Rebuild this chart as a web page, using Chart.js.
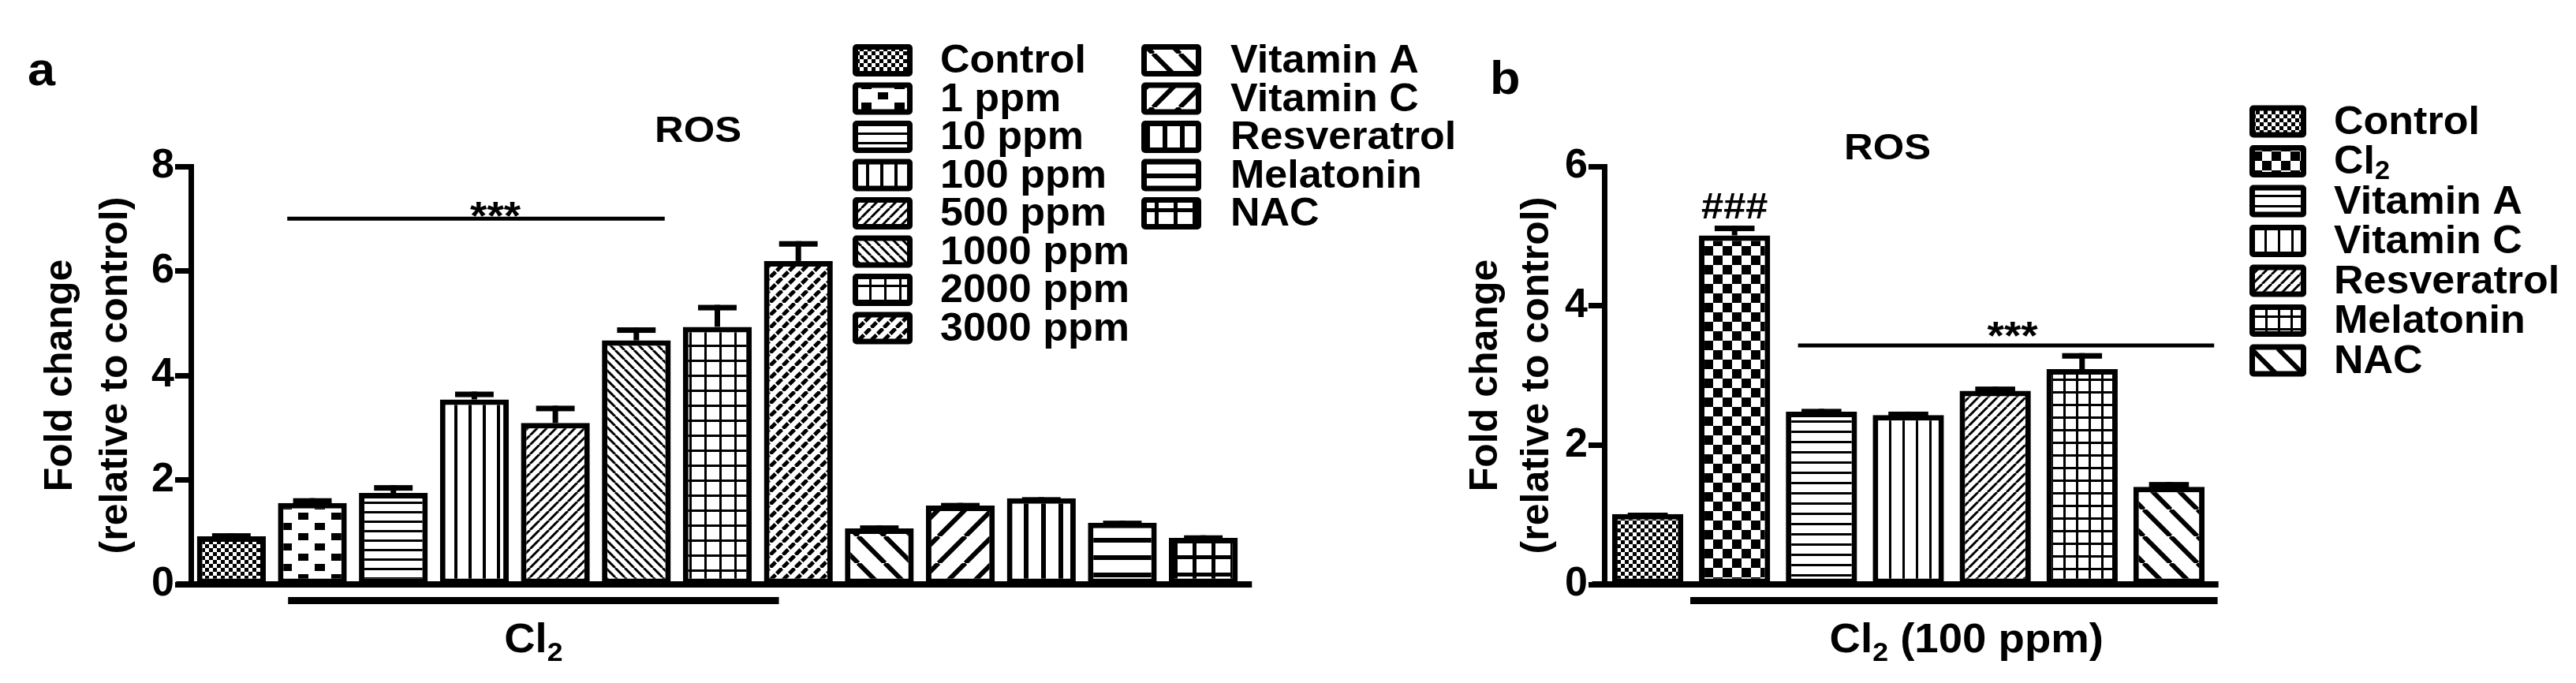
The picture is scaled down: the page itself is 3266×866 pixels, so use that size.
<!DOCTYPE html>
<html>
<head>
<meta charset="utf-8">
<title>ROS fold change</title>
<script src="https://cdn.jsdelivr.net/npm/chart.js@4.4.1/dist/chart.umd.min.js"></script>
<style>
  html, body { margin: 0; padding: 0; background: #fff; }
  #wrap { position: relative; width: 3266px; height: 866px; overflow: hidden; background: #fff; }
  canvas { position: absolute; top: 0; }
  #chartA { left: 0; }
  #chartB { left: 1800px; }
</style>
</head>
<body>
<div id="wrap">
  <canvas id="chartA" width="1900" height="866"></canvas>
  <canvas id="chartB" width="1466" height="866"></canvas>
</div>
<script>
// ===== DATA =====
// panel a : Cl2 dose response + antioxidants
const labelsA = ['Control', '1 ppm', '10 ppm', '100 ppm', '500 ppm', '1000 ppm', '2000 ppm', '3000 ppm',
  'Vitamin A', 'Vitamin C', 'Resveratrol', 'Melatonin', 'NAC'];
const valuesA = [0.92, 1.56, 1.75, 3.54, 3.09, 4.67, 4.93, 6.19, 1.07, 1.51, 1.65, 1.18, 0.89];
const errorsA = [0.06, 0.09, 0.15, 0.15, 0.33, 0.25, 0.42, 0.38, 0.06, 0.05, 0.02, 0.04, 0.05];
const ticksA = [0, 2, 4, 6, 8];

// panel b : Cl2 (100 ppm) + antioxidants
const labelsB = ['Control', 'Cl2', 'Vitamin A', 'Vitamin C', 'Resveratrol', 'Melatonin', 'NAC'];
const valuesB = [1.01, 5.01, 2.48, 2.43, 2.78, 3.09, 1.40];
const errorsB = [0.02, 0.14, 0.04, 0.05, 0.06, 0.23, 0.07];
const ticksB = [0, 2, 4, 6];

const yTitle = ['Fold change', '(relative to control)'];

// ===== STYLE =====
const FONT = '"Liberation Sans", Arial, Helvetica, sans-serif';
const SX = 1.1; // the figure text is a bit wider than plain Arial bold
const patternsA = ['fineChecker', 'blocks', 'hFine', 'vFine', 'slashFine', 'backFine', 'gridFine', 'weave',
  'backWide', 'slashWide', 'vWide', 'hWide', 'gridWide'];
const patternsB = ['fineChecker', 'checker', 'hMid', 'vMid', 'slashFine', 'gridMid', 'backWide'];

Chart.defaults.font.family = FONT;
Chart.defaults.color = '#000';

// small offscreen tile -> used as a repeat pattern
function tile(w, h, draw) {
  const c = document.createElement('canvas');
  c.width = w; c.height = h;
  const g = c.getContext('2d');
  g.fillStyle = '#fff';
  g.fillRect(0, 0, w, h);
  g.fillStyle = '#000';
  g.strokeStyle = '#000';
  draw(g);
  return c;
}

function diag(g, s, lw, back) {
  g.lineWidth = lw;
  g.beginPath();
  for (let k = -1; k <= 1; k++) {
    if (back) { g.moveTo(k * s, 0); g.lineTo(k * s + s, s); }
    else { g.moveTo(k * s, s); g.lineTo(k * s + s, 0); }
  }
  g.stroke();
}

const TILES = {
  fineChecker: () => tile(10, 10, g => { g.fillRect(0, 0, 5, 5); g.fillRect(5, 5, 5, 5); }),
  blocks: () => tile(42, 26, g => { g.fillRect(0, 0, 13, 9); g.fillRect(21, 13, 13, 9); }),
  checker: () => tile(24, 24, g => { g.fillRect(0, 0, 12, 12); g.fillRect(12, 12, 12, 12); }),
  hFine: () => tile(10, 12, g => g.fillRect(0, 0, 10, 3)),
  vFine: () => tile(18, 10, g => g.fillRect(0, 0, 4, 10)),
  hMid: () => tile(10, 13, g => g.fillRect(0, 0, 10, 3)),
  vMid: () => tile(17, 10, g => g.fillRect(0, 0, 3, 10)),
  slashFine: () => tile(12, 12, g => diag(g, 12, 3, false)),
  backFine: () => tile(12, 12, g => diag(g, 12, 3, true)),
  gridFine: () => tile(19, 19, g => { g.fillRect(0, 0, 19, 3); g.fillRect(0, 0, 3, 19); }),
  gridMid: () => tile(16, 16, g => { g.fillRect(0, 0, 16, 3); g.fillRect(0, 0, 3, 16); }),
  weave: () => tile(16, 16, g => { diag(g, 16, 5, false); g.strokeStyle = '#fff'; diag(g, 16, 2, true); }),
  backWide: () => tile(34, 34, g => diag(g, 34, 6, true)),
  slashWide: () => tile(34, 34, g => diag(g, 34, 6, false)),
  vWide: () => tile(22, 10, g => g.fillRect(0, 0, 6, 10)),
  hWide: () => tile(10, 22, g => g.fillRect(0, 0, 10, 6)),
  gridWide: () => tile(24, 22, g => { g.fillRect(0, 0, 24, 5); g.fillRect(0, 0, 5, 22); })
};

// text with "Cl2" written as Cl + subscript 2, stretched horizontally by sx
function drawChem(ctx, text, x, y, size, align, sx = SX) {
  const big = `bold ${size}px ${FONT}`;
  const small = `bold ${Math.round(size * 0.65)}px ${FONT}`;
  const k = text.indexOf('Cl2');
  const parts = k < 0 ? [[text, big, 0]]
    : [[text.slice(0, k + 2), big, 0], ['2', small, size * 0.22], [text.slice(k + 3), big, 0]];
  ctx.textAlign = 'left';
  let w = 0;
  parts.forEach(p => { ctx.font = p[1]; p.push(ctx.measureText(p[0]).width); w += p[3]; });
  const x0 = align === 'center' ? x - w * sx / 2 : x;
  ctx.save();
  ctx.translate(x0, y);
  ctx.scale(sx, 1);
  let cx = 0;
  parts.forEach(p => { ctx.font = p[1]; ctx.fillText(p[0], cx, p[2]); cx += p[3]; });
  ctx.restore();
}

function drawLegend(ctx, names, fills, L) {
  ctx.textBaseline = 'middle';
  names.forEach((name, i) => {
    const col = Math.floor(i / L.perCol), row = i % L.perCol;
    const cy = L.top + row * L.step;
    const bx = L.boxX[col];
    ctx.fillStyle = '#000';
    ctx.beginPath();
    ctx.roundRect(bx, cy - L.boxH / 2, L.boxW, L.boxH, 5);
    ctx.fill();
    ctx.fillStyle = fills[i];
    ctx.fillRect(bx + 7, cy - L.boxH / 2 + 7, L.boxW - 14, L.boxH - 14);
    ctx.fillStyle = '#000';
    drawChem(ctx, name, L.textX[col], cy + 2, L.size, 'left', 1.04);
  });
}

// error bars, axis line, significance marks, group bar, title, legend
function overlayPlugin(d, fills) {
  return {
    id: 'overlay',
    afterDatasetsDraw(chart) {
      const { ctx, scales: { x, y } } = chart;
      const px = v => x.getPixelForValue(v);
      const bars = chart.getDatasetMeta(0).data;
      ctx.save();
      ctx.fillStyle = '#000';

      // upper whisker only (SEM)
      bars.forEach((bar, i) => {
        const top = y.getPixelForValue(d.values[i] + d.errors[i]);
        const cap = bar.width * 0.56;
        ctx.fillRect(bar.x - 3.5, top, 7, bar.y - top);
        ctx.fillRect(bar.x - cap / 2, top, cap, 7);
      });

      // x axis, sticks out past both ends like Prism does
      const y0 = y.getPixelForValue(0);
      ctx.fillRect(px(d.axisSpan[0]), y0 - 4, px(d.axisSpan[1]) - px(d.axisSpan[0]), 8);

      // bar grouping the Cl2 exposed columns
      ctx.fillRect(px(d.group.span[0]), y0 + 16, px(d.group.span[1]) - px(d.group.span[0]), 9);
      ctx.textBaseline = 'alphabetic';
      drawChem(ctx, d.group.text, px(d.group.at), y0 + 86, 52, 'center', 1.05);

      // significance line + stars
      const ys = y.getPixelForValue(d.sig.value);
      ctx.fillRect(px(d.sig.span[0]), ys - 2.5, px(d.sig.span[1]) - px(d.sig.span[0]), 5);
      drawChem(ctx, '***', px(d.sig.at), ys + d.sig.dy, 50, 'center');

      if (d.hash) {
        const i = d.hash.index;
        drawChem(ctx, '###', px(i), y.getPixelForValue(d.values[i] + d.errors[i]) + d.hash.dy, 46, 'center');
      }

      // chart title and panel letter
      drawChem(ctx, 'ROS', d.titlePos[0], d.titlePos[1], 47, 'center', 1.08);
      drawChem(ctx, d.letter, d.letterPos[0], d.letterPos[1], 60, 'left', 1.05);

      drawLegend(ctx, d.labels, fills, d.legend);
      ctx.restore();
    }
  };
}

function makeChart(canvasId, d) {
  const ctx = document.getElementById(canvasId).getContext('2d');
  const fills = d.patterns.map(p => ctx.createPattern(TILES[p](), 'repeat'));
  return new Chart(ctx, {
    type: 'bar',
    data: {
      labels: d.labels,
      datasets: [{
        data: d.values,
        backgroundColor: fills,
        borderColor: '#000',
        borderWidth: 7,
        borderSkipped: false,
        barPercentage: d.barPct,
        categoryPercentage: 1
      }]
    },
    options: {
      responsive: false,
      animation: false,
      devicePixelRatio: 1,
      layout: { padding: d.padding },
      scales: {
        x: { type: 'category', display: false, offset: true },
        y: {
          min: 0,
          max: d.ticks[d.ticks.length - 1],
          afterFit: s => { s.width = d.axisWidth; },
          afterBuildTicks: s => { s.ticks = d.ticks.map(v => ({ value: v })); },
          grid: { drawOnChartArea: false, drawTicks: true, tickLength: 20, tickWidth: 7, tickColor: '#000' },
          border: { display: true, width: 7, color: '#000' },
          ticks: { padding: 1, color: '#000', font: { size: 52, weight: 'bold' } },
          title: {
            display: true,
            text: yTitle,
            color: '#000',
            font: { size: 50, weight: 'bold', lineHeight: d.titleLine },
            padding: { top: d.titlePad, bottom: 0 }
          }
        }
      },
      plugins: { legend: { display: false }, tooltip: { enabled: false } }
    },
    plugins: [overlayPlugin(d, fills)]
  });
}

window.addEventListener('DOMContentLoaded', () => {
  makeChart('chartA', {
    labels: labelsA, values: valuesA, errors: errorsA, ticks: ticksA, patterns: patternsA,
    barPct: 0.85, axisWidth: 242, titlePad: 42, titleLine: 1.4,
    padding: { left: 0, right: 323, top: 211, bottom: 125 },
    axisSpan: [-0.68, 12.6],
    group: { span: [0.70, 6.76], at: 3.73, text: 'Cl2' },
    sig: { value: 7.0, span: [0.69, 5.35], at: 3.26, dy: 13.5 },
    titlePos: [885, 180], letter: 'a', letterPos: [35, 108],
    legend: { perCol: 8, top: 76.5, step: 48.5, boxX: [1081, 1447], textX: [1192, 1560], boxW: 76, boxH: 41, size: 50 }
  });
  makeChart('chartB', {
    labels: labelsB, values: valuesB, errors: errorsB, ticks: ticksB, patterns: patternsB,
    barPct: 0.82, axisWidth: 234, titlePad: 52, titleLine: 1.3,
    padding: { left: 0, right: 461, top: 211, bottom: 125 },
    axisSpan: [-0.64, 6.57],
    group: { span: [0.49, 6.56], at: 3.67, text: 'Cl2 (100 ppm)' },
    sig: { value: 3.43, span: [1.73, 6.52], at: 4.2, dy: 4.5 },
    hash: { index: 1, dy: -9 },
    titlePos: [593, 202], letter: 'b', letterPos: [89, 119],
    legend: { perCol: 7, top: 154, step: 50.5, boxX: [1052], textX: [1159], boxW: 72, boxH: 41, size: 50 }
  });
});
</script>
</body>
</html>
